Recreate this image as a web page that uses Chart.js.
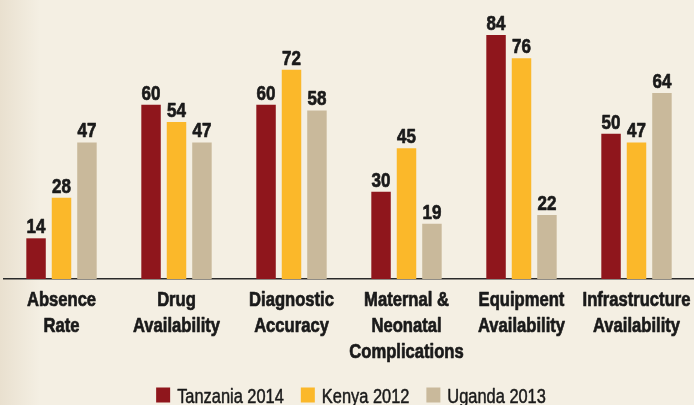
<!DOCTYPE html>
<html>
<head>
<meta charset="utf-8">
<script src="https://cdn.jsdelivr.net/npm/chart.js@4.4.1/dist/chart.umd.min.js"></script>
<style>
  html, body { margin: 0; padding: 0; }
  body {
    width: 694px; height: 405px; overflow: hidden;
    background: linear-gradient(to right, #e9e0cf 0px, #f4efe3 40px, #f4efe3 100%);
  }
  #wrap { position: relative; width: 694px; height: 405px; }
</style>
</head>
<body>
<div id="wrap"><canvas id="chart"></canvas></div>
<script>
const categories = [
  ["Absence", "Rate"],
  ["Drug", "Availability"],
  ["Diagnostic", "Accuracy"],
  ["Maternal &", "Neonatal", "Complications"],
  ["Equipment", "Availability"],
  ["Infrastructure", "Availability"]
];
const seriesNames = ["Tanzania 2014", "Kenya 2012", "Uganda 2013"];
const seriesColors = ["#8f161c", "#fbb82a", "#c9b99b"];
const tanzania = [14, 60, 60, 30, 84, 50];
const kenya = [28, 54, 72, 45, 76, 47];
const uganda = [47, 47, 58, 19, 22, 64];

const FONT = "'Liberation Sans', Arial, sans-serif";
const TEXT = "#1a1a1a";

// no condensed font installed, so squeeze text horizontally
// (thick > 0 adds a thin stroke so the squeezed glyphs keep their weight)
function narrowText(ctx, str, x, y, sx, align, thick) {
  const w = ctx.measureText(str).width * sx;
  let left = x;
  if (align === 'center') left = x - w / 2;
  ctx.save();
  ctx.translate(left, y);
  ctx.scale(sx, 1);
  ctx.textAlign = 'left';
  ctx.fillText(str, 0, 0);
  if (thick) {
    ctx.strokeStyle = ctx.fillStyle;
    ctx.lineWidth = thick;
    ctx.lineJoin = 'round';
    ctx.strokeText(str, 0, 0);
  }
  ctx.restore();
  return w;
}

const textPlugin = {
  id: 'textPlugin',
  afterDraw(chart) {
    const ctx = chart.ctx;
    const xs = chart.scales.x;
    ctx.save();
    ctx.fillStyle = TEXT;
    ctx.textBaseline = 'alphabetic';

    // values above bars
    ctx.font = "bold 20px " + FONT;
    chart.data.datasets.forEach((ds, i) => {
      chart.getDatasetMeta(i).data.forEach((bar, j) => {
        narrowText(ctx, String(ds.data[j]), bar.x, bar.y - 5, 0.85, 'center', 0.7);
      });
    });

    // category labels
    const base = chart.chartArea.bottom;
    categories.forEach((lines, i) => {
      const cx = xs.getPixelForTick(i);
      lines.forEach((ln, k) => {
        narrowText(ctx, ln, cx, base + 27 + k * 26, 0.83, 'center', 0.7);
      });
    });

    // legend
    ctx.font = "20px " + FONT;
    const box = 14, gapIn = 7, gapOut = 17;
    const widths = seriesNames.map(n => ctx.measureText(n).width * 0.82);
    let total = 0;
    widths.forEach((w, i) => { total += box + gapIn + w + (i < widths.length - 1 ? gapOut : 0); });
    let x = (chart.chartArea.left + chart.chartArea.right) / 2 + 2 - total / 2;
    const ly = 403;
    seriesNames.forEach((n, i) => {
      ctx.fillStyle = seriesColors[i];
      ctx.fillRect(x, ly - 15.5, box, 15);
      x += box + gapIn;
      ctx.fillStyle = TEXT;
      x += narrowText(ctx, n, x, ly, 0.82, 'left', 0.5) + gapOut;
    });
    ctx.restore();
  }
};

const ctx = document.getElementById('chart').getContext('2d');
const chart = new Chart(ctx, {
  type: 'bar',
  data: {
    labels: categories.map(c => c.join(' ')),
    datasets: [
      { label: seriesNames[0], data: tanzania, backgroundColor: seriesColors[0] },
      { label: seriesNames[1], data: kenya, backgroundColor: seriesColors[1] },
      { label: seriesNames[2], data: uganda, backgroundColor: seriesColors[2] }
    ]
  },
  options: {
    responsive: true,
    maintainAspectRatio: false,
    animation: false,
    layout: { padding: { left: 4, right: 0, top: 0, bottom: 126 } },
    datasets: {
      bar: { categoryPercentage: 0.664, barPercentage: 0.765 }
    },
    scales: {
      x: {
        grid: { display: false, drawTicks: false },
        border: { display: true, color: "#2a2a2a", width: 1.5 },
        ticks: { display: false }
      },
      y: {
        display: false,
        min: 0,
        max: 96
      }
    },
    plugins: {
      legend: { display: false },
      tooltip: { enabled: false }
    }
  },
  plugins: [textPlugin]
});
</script>
</body>
</html>
